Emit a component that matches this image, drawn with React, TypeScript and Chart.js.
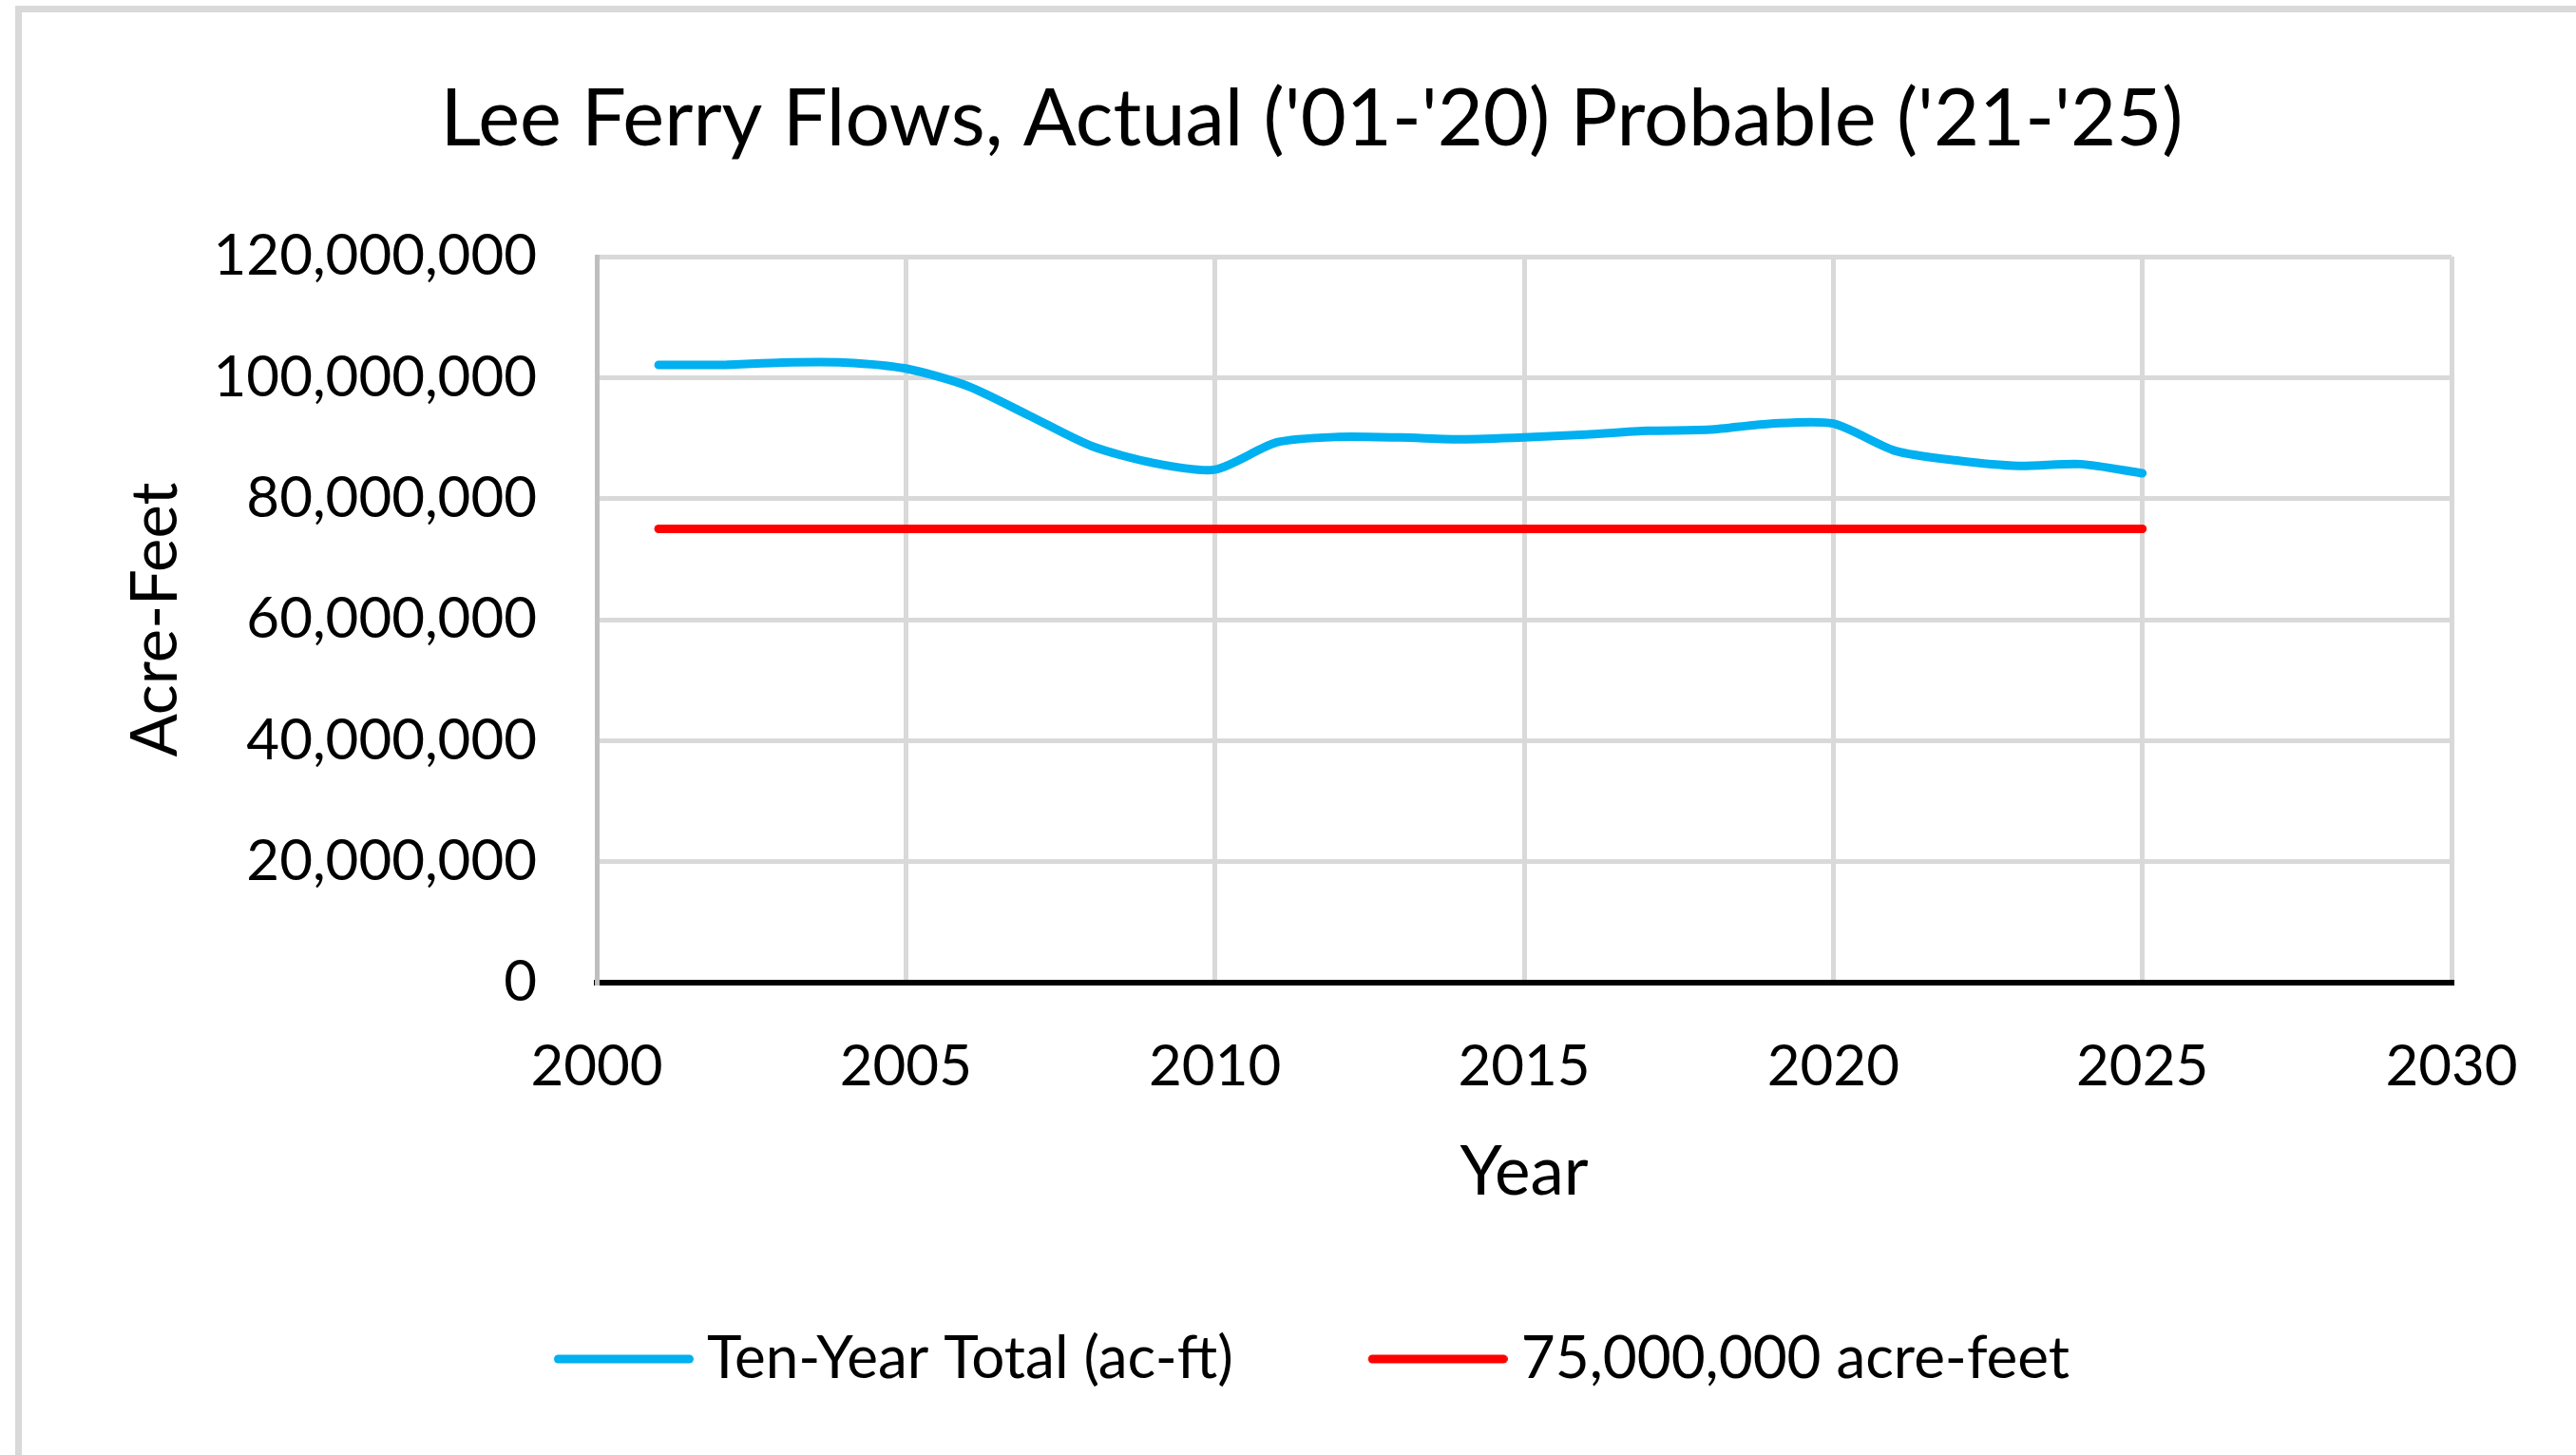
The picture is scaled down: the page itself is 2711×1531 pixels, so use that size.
import { useEffect, useRef } from 'react';
import { Chart, registerables } from 'chart.js';

Chart.register(...registerables);

const TITLE = "Lee Ferry Flows, Actual ('01-'20) Probable ('21-'25)";
const X_TITLE = 'Year';
const Y_TITLE = 'Acre-Feet';

const YEARS = [
  2001, 2002, 2003, 2004, 2005, 2006, 2007, 2008, 2009, 2010, 2011, 2012, 2013,
  2014, 2015, 2016, 2017, 2018, 2019, 2020, 2021, 2022, 2023, 2024, 2025,
];

const TEN_YEAR_TOTAL = [
  102100000, 102100000, 102500000, 102500000, 101500000, 98600000, 93700000,
  88700000, 85900000, 84800000, 89300000, 90200000, 90100000, 89800000,
  90100000, 90600000, 91200000, 91400000, 92400000, 92400000, 87900000,
  86300000, 85400000, 85700000, 84200000,
];

const THRESHOLD = [
  75000000, 75000000, 75000000, 75000000, 75000000, 75000000, 75000000,
  75000000, 75000000, 75000000, 75000000, 75000000, 75000000, 75000000,
  75000000, 75000000, 75000000, 75000000, 75000000, 75000000, 75000000,
  75000000, 75000000, 75000000, 75000000,
];

const SERIES_NAMES = ['Ten-Year Total (ac-ft)', '75,000,000 acre-feet'];
const SERIES_COLORS = ['#00B0F0', '#FF0000'];

const X_TICKS = [2000, 2005, 2010, 2015, 2020, 2025, 2030];
const Y_TICKS = [0, 20000000, 40000000, 60000000, 80000000, 100000000, 120000000];

const FONT = "Lato, 'Noto Sans', sans-serif";
const W = 2711;
const H = 1531;

// legend swatch: a line that starts at the box's left edge and reaches closer to the text
function legendLine(color: string) {
  const c = document.createElement('canvas');
  c.width = 164;
  c.height = 14;
  const g = c.getContext('2d');
  if (g) {
    g.strokeStyle = color;
    g.lineWidth = 9;
    g.lineCap = 'round';
    g.beginPath();
    g.moveTo(17 + 4.5, 7);
    g.lineTo(164 - 4.5, 7);
    g.stroke();
  }
  return c;
}

const frame = {
  id: 'frame',
  beforeDraw(chart: any) {
    const { ctx } = chart;
    ctx.save();
    ctx.fillStyle = '#FFFFFF';
    ctx.fillRect(0, 0, chart.width, chart.height);
    ctx.fillStyle = '#D9D9D9';
    ctx.fillRect(16, 6, 7, chart.height);
    ctx.fillRect(16, 6, chart.width, 7);
    ctx.restore();
  },
};

export default function App() {
  const ref = useRef<HTMLCanvasElement | null>(null);

  useEffect(() => {
    document.body.style.margin = '0';
    const canvas = ref.current;
    if (!canvas) return;
    const swatches = SERIES_COLORS.map((c) => legendLine(c));
    const baseGen = (Chart as any).defaults.plugins.legend.labels.generateLabels;
    const chart = new Chart(canvas, {
      type: 'line',
      data: {
        datasets: [
          {
            label: SERIES_NAMES[0],
            data: YEARS.map((yr, i) => ({ x: yr, y: TEN_YEAR_TOTAL[i] })),
            borderColor: SERIES_COLORS[0],
            backgroundColor: SERIES_COLORS[0],
            borderWidth: 9,
            tension: 0.25,
            pointRadius: 0,
            borderCapStyle: 'round',
            borderJoinStyle: 'round',
          },
          {
            label: SERIES_NAMES[1],
            data: YEARS.map((yr, i) => ({ x: yr, y: THRESHOLD[i] })),
            borderColor: SERIES_COLORS[1],
            backgroundColor: SERIES_COLORS[1],
            borderWidth: 9,
            tension: 0,
            pointRadius: 0,
            borderCapStyle: 'round',
          },
        ],
      },
      options: {
        responsive: false,
        animation: false,
        layout: { padding: { left: 50, top: 20, right: 0, bottom: 60 } },
        plugins: {
          title: {
            display: true,
            text: TITLE,
            color: '#000',
            font: { family: FONT, size: 83, weight: 'normal' },
            padding: { top: 56, bottom: 94.4 },
          },
          legend: {
            position: 'bottom',
            labels: {
              usePointStyle: true,
              pointStyleWidth: 130,
              padding: 142,
              color: '#000',
              font: { family: FONT, size: 62 },
              generateLabels: (ch: any) =>
                baseGen(ch).map((it: any, i: number) => ({ ...it, pointStyle: swatches[i] })),
            },
          },
          tooltip: { enabled: false },
        },
        scales: {
          x: {
            type: 'linear',
            min: 2000,
            max: 2030,
            afterBuildTicks: (s: any) => {
              s.ticks = X_TICKS.map((v) => ({ value: v }));
            },
            afterFit: (s: any) => {
              s.height = 223;
              s.paddingRight = 131;
            },
            grid: {
              color: (c: any) => (c.index === 0 ? 'rgba(0,0,0,0)' : '#D9D9D9'),
              lineWidth: 5,
              drawTicks: false,
            },
            border: { color: '#000', width: 6 },
            ticks: {
              padding: 53,
              color: '#000',
              font: { family: FONT, size: 60 },
              callback: (v: any) => String(v),
            },
            title: {
              display: true,
              text: X_TITLE,
              color: '#000',
              font: { family: FONT, size: 71 },
              padding: { top: 0, bottom: -20 },
            },
          },
          y: {
            min: 0,
            max: 120000000,
            afterBuildTicks: (s: any) => {
              s.ticks = Y_TICKS.map((v) => ({ value: v }));
            },
            afterFit: (s: any) => {
              s.width = 578;
            },
            grid: {
              color: (c: any) => (c.index === 0 ? 'rgba(0,0,0,0)' : '#D9D9D9'),
              lineWidth: 5,
              drawTicks: false,
            },
            border: { color: '#BFBFBF', width: 5 },
            ticks: {
              padding: 63,
              color: '#000',
              font: { family: FONT, size: 60 },
              callback: (v: any) => Number(v).toLocaleString('en-US'),
            },
            title: {
              display: true,
              text: Y_TITLE,
              color: '#000',
              font: { family: FONT, size: 67 },
              padding: { top: 74, bottom: 0 },
            },
          },
        },
      },
      plugins: [frame],
    } as any);
    return () => chart.destroy();
  }, []);

  return (
    <div style={{ position: 'fixed', left: 0, top: 0, width: W, height: H, background: '#fff' }}>
      <canvas ref={ref} width={W} height={H} style={{ width: W, height: H, display: 'block' }} />
    </div>
  );
}
